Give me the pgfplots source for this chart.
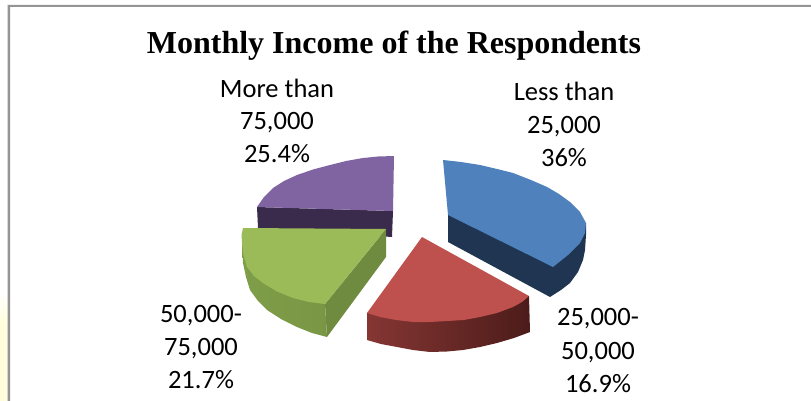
\documentclass[border=0pt]{standalone}
\usepackage{fontspec}
\setmainfont{Carlito}
\newfontfamily\titlefont{Liberation Serif}
\usepackage{pgfplots}
\pgfplotsset{compat=1.18}
\definecolor{blueface}{HTML}{4F81BD}
\definecolor{blueside}{HTML}{1F3552}
\definecolor{redface}{HTML}{BE504D}
\definecolor{redwallL}{HTML}{853633}
\definecolor{redwallM}{HTML}{6C2A28}
\definecolor{redwallR}{HTML}{4C1C1A}
\definecolor{greenface}{HTML}{9BBB59}
\definecolor{greenwall}{HTML}{6F8B40}
\definecolor{greenwallL}{HTML}{7F9E48}
\definecolor{greenwallR}{HTML}{799645}
\definecolor{purpleface}{HTML}{8064A2}
\definecolor{purpleside}{HTML}{3A2A4C}
\begin{document}
\begin{tikzpicture}
\begin{axis}[
  width=811pt, height=401pt, scale only axis,
  xmin=0, xmax=811, ymin=0, ymax=401, y dir=reverse,
  hide axis, clip=true,
  every axis plot/.append style={draw=none, line join=round},
]
% page background and the outer frame
\addplot[fill=white] coordinates {(0,0) (811,0) (811,401) (0,401)} -- cycle;
\addplot[bottom color=yellow!14, top color=white] coordinates {(0,292) (7.5,292) (7.5,325) (0,325)} -- cycle;
\addplot[fill=yellow!14] coordinates {(0,325) (7.5,325) (7.5,401) (0,401)} -- cycle;
\addplot[fill=black!42] coordinates {(7.5,5) (811,5) (811,7) (10,7) (10,401) (7.5,401)} -- cycle;

% More than 75,000
\addplot[fill=purpleside] coordinates {(257,207) (393,211) (392,237) (258,228)} -- cycle;
\addplot[fill=purpleface] coordinates {(394,156) (393,211) (257,207) (264,197) (273,188) (284,181) (297,175) (313,169.5) (330,165) (346,161) (363,158) (378,156.5)} -- cycle;

% 50,000-75,000
\addplot[fill=greenwall] coordinates {(386,229) (386,257) (327,337) (325,304)} -- cycle;
\addplot[left color=greenwallL, right color=greenwallR] coordinates {(242,243) (243,263) (246,277) (250,290) (258,301) (267,310) (281,319) (297,327) (312,333) (327,337) (325,304)} -- cycle;
\addplot[fill=greenface] coordinates {(386,229) (325,304) (309,302) (293,298) (277,291.5) (263,283) (254,276) (247,267) (243.5,255) (242,243) (241.5,235) (243,228)} -- cycle;

% 25,000-50,000
\addplot[left color=redwallL, middle color=redwallM, right color=redwallR] coordinates {(529,296) (530,332) (514,338) (497,343) (480,347) (463,350) (447,351.5) (430,352) (413,350) (397,347) (381,344) (367,340) (367,313)} -- cycle;
\addplot[fill=redface] coordinates {(422,237) (529,296) (522,302) (513,307) (497,313) (480,317) (464,320) (447,321) (430,322) (413,322) (396,320) (380,317) (367,313)} -- cycle;

% Less than 25,000
\addplot[fill=blueside] coordinates {(448,215) (448,242) (550,297) (561,290) (570,283) (578,272) (583,260) (585,250) (586,235) (586,223)} -- cycle;
\addplot[fill=blueface] coordinates {(443,160) (461,162) (480,165) (497,169) (513,173) (531,180) (547,187) (559,194) (570,202) (580,212) (586,223) (585,233) (580,243) (568,255) (553,267) (448,215)} -- cycle;

% title and slice labels
\node[font=\titlefont\bfseries\fontsize{32}{36}\selectfont] at (axis cs:394,46) {Monthly Income of the Respondents};
\node[font=\fontsize{26.5}{32.5}\selectfont, align=center] at (axis cs:277,120.5) {More than\\75,000\\25.4\%};
\node[font=\fontsize{26.5}{33}\selectfont, align=center] at (axis cs:564,124) {Less than\\25,000\\36\%};
\node[font=\fontsize{26.5}{33}\selectfont, align=center] at (axis cs:201,347) {50,000-\\75,000\\21.7\%};
\node[font=\fontsize{26.5}{33.5}\selectfont, align=center] at (axis cs:598,351) {25,000-\\50,000\\16.9\%};
\end{axis}
\end{tikzpicture}
\end{document}
